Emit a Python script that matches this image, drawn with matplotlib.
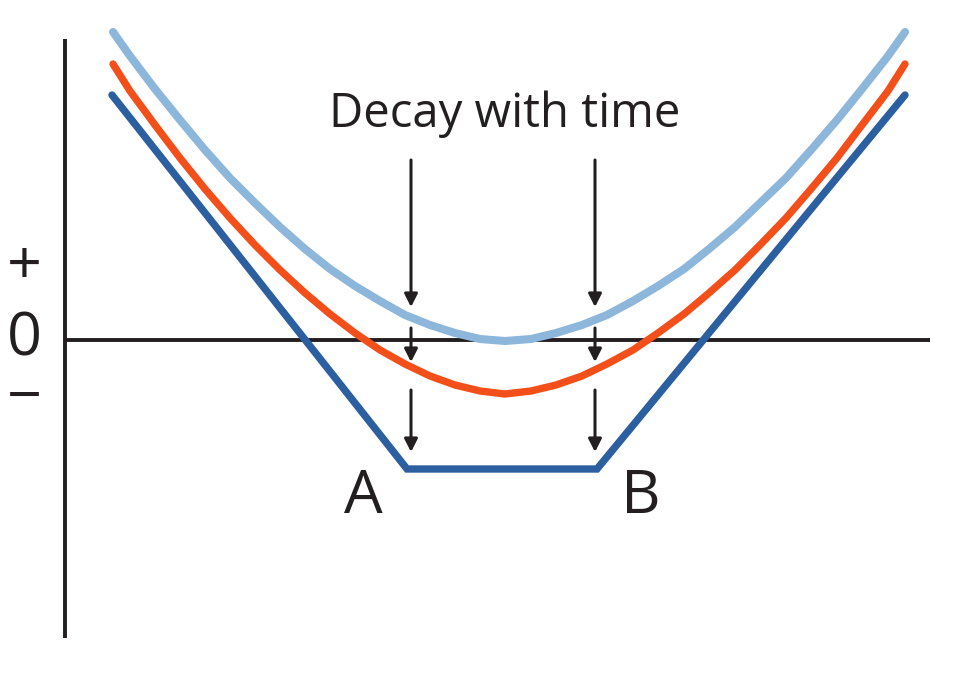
import matplotlib
matplotlib.use("Agg")
import matplotlib.pyplot as plt

plt.rcParams['font.family'] = ['Open Sans', 'DejaVu Sans']

# ---- curves (x, y), zero line at y = 0 ----
curve_x = [0.48, 0.65, 0.90, 1.15, 1.40, 1.65, 1.90, 2.15, 2.40, 2.65, 2.90, 3.15,
           3.40, 3.65, 3.90, 4.15, 4.40, 4.66, 4.91, 5.17, 5.42, 5.68, 5.93, 6.19,
           6.44, 6.70, 6.95, 7.21, 7.46, 7.72, 7.97, 8.23, 8.40]
light_y = [3.08, 2.84, 2.51, 2.20, 1.90, 1.62, 1.37, 1.13, 0.91, 0.71, 0.54, 0.39,
           0.25, 0.15, 0.07, 0.01, -0.01, 0.01, 0.07, 0.15, 0.25, 0.39, 0.54, 0.71,
           0.91, 1.13, 1.37, 1.62, 1.90, 2.20, 2.51, 2.84, 3.08]
orange_y = [2.76, 2.49, 2.15, 1.82, 1.51, 1.22, 0.95, 0.70, 0.47, 0.26, 0.07, -0.10,
            -0.24, -0.36, -0.45, -0.51, -0.54, -0.51, -0.45, -0.36, -0.24, -0.10, 0.07,
            0.26, 0.47, 0.70, 0.95, 1.22, 1.51, 1.82, 2.15, 2.49, 2.76]

dark_x = [0.47, 3.42, 5.32, 8.40]
dark_y = [2.45, -1.29, -1.29, 2.45]

# arrows: two columns, three pieces each (start y, end y)
arrow_x = [3.46, 5.30]
arrow_segs = [(1.80, 0.33), (0.12, -0.22), (-0.50, -1.12)]

sign_labels = ['+', '0', '\u2212']
sign_y = [0.72, 0.0, -0.60]

ink = '#231f20'

fig = plt.figure(figsize=(9.6, 6.8), dpi=100)
ax = fig.add_axes([0, 0, 1, 1])
ax.set_xlim(-0.65, 8.95)
ax.set_ylim(-3.4, 3.4)
ax.axis('off')

# axes lines
ax.plot([0, 8.65], [0, 0], color=ink, lw=2.8, solid_capstyle='butt', zorder=1)
ax.plot([0, 0], [3.01, -2.98], color=ink, lw=2.8, solid_capstyle='butt', zorder=1)

ax.plot(curve_x, light_y, color='#8db6db', lw=5.8, solid_capstyle='round', zorder=3)
ax.plot(curve_x, orange_y, color='#f24f1b', lw=5.3, solid_capstyle='round', zorder=3)
ax.plot(dark_x, dark_y, color='#2b5f9f', lw=5.3, solid_capstyle='round',
        solid_joinstyle='miter', zorder=3)

for xa in arrow_x:
    for y0, y1 in arrow_segs:
        ax.annotate('', xy=(xa, y1), xytext=(xa, y0),
                    arrowprops=dict(arrowstyle='-|>,head_length=0.55,head_width=0.28',
                                    mutation_scale=14, lw=2.2, color=ink,
                                    shrinkA=0, shrinkB=0), zorder=4)

ax.text(4.40, 2.13, 'Decay with time', fontsize=34, color=ink,
        ha='center', va='baseline')
for s, yy in zip(sign_labels, sign_y):
    ax.text(-0.41, yy, s, fontsize=44, color=ink, ha='center', va='center')
ax.text(2.98, -1.57, 'A', fontsize=44, color=ink, ha='center', va='center')
ax.text(5.76, -1.57, 'B', fontsize=44, color=ink, ha='center', va='center')

fig.savefig('out.png', dpi=100)
